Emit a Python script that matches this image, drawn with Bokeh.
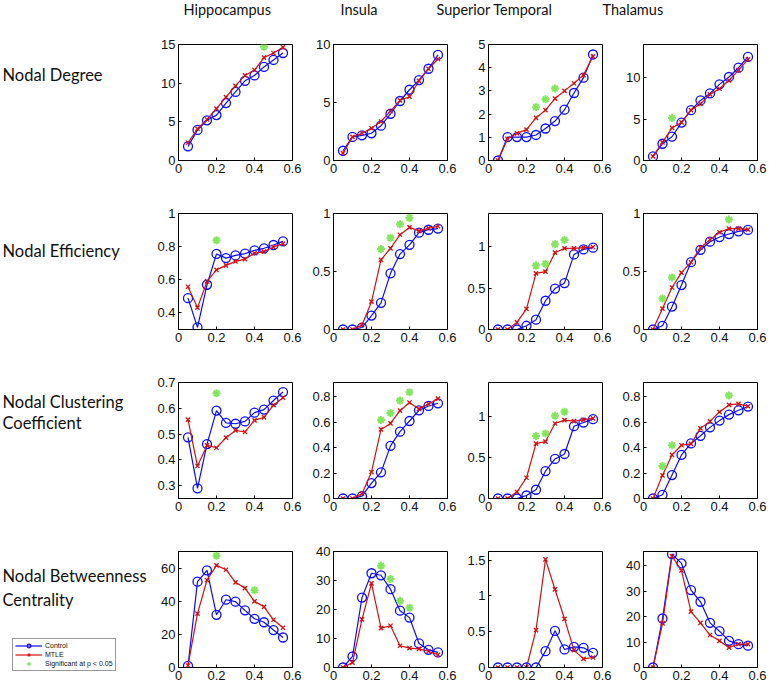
from bokeh.plotting import figure
from bokeh.layouts import row, column
from bokeh.models import Range1d, FixedTicker, Legend, LegendItem, ColumnDataSource
from bokeh.core.properties import value
from bokeh.embed import file_html
from bokeh.resources import INLINE

# ---------------- data ----------------
thresholds = [0.05, 0.10, 0.15, 0.20, 0.25, 0.30, 0.35, 0.40, 0.45, 0.50, 0.55]
regions = ["Hippocampus", "Insula", "Superior Temporal", "Thalamus"]
measure_labels = [["Nodal Degree"], ["Nodal Efficiency"],
                  ["Nodal Clustering", "Coefficient"], ["Nodal Betweenness", "Centrality"]]
series_names = ["Control", "MTLE", "Significant at p < 0.05"]
x_ticks = [0, 0.2, 0.4, 0.6]

# Nodal degree  (rows: Hippocampus, Insula, Superior Temporal, Thalamus)
degree_control = [
    [1.83, 3.96, 5.2, 5.87, 7.43, 8.87, 10.3, 11.0, 12.1, 13.0, 13.9],
    [0.84, 2.03, 2.17, 2.35, 3.0, 4.03, 5.13, 6.1, 6.93, 7.91, 9.1],
    [0.0, 1.01, 1.01, 1.01, 1.1, 1.38, 1.7, 2.19, 2.91, 3.57, 4.57],
    [0.49, 2.02, 2.87, 4.57, 6.07, 7.25, 8.1, 9.19, 10.08, 11.2, 12.5],
]
degree_mtle = [
    [2.3, 4.1, 5.3, 6.7, 8.2, 9.65, 11.0, 11.7, 13.3, 13.9, 14.65],
    [0.64, 2.03, 2.35, 2.78, 3.36, 4.26, 5.19, 5.5, 6.87, 7.91, 8.75],
    [0.0, 0.93, 1.17, 1.33, 1.84, 2.17, 2.67, 3.0, 3.33, 3.68, 4.49],
    [0.49, 2.19, 3.93, 4.6, 6.07, 6.84, 7.98, 8.66, 9.68, 10.9, 12.2],
]
degree_sig_x = [[0.45], [], [0.25, 0.30, 0.35], [0.15]]
degree_sig_y = [[14.7], [], [2.3, 2.64, 3.1], [5.14]]

# Nodal efficiency
efficiency_control = [
    [0.489, 0.313, 0.57, 0.756, 0.731, 0.747, 0.758, 0.778, 0.79, 0.81, 0.832],
    [0.0, 0.0, 0.017, 0.12, 0.23, 0.484, 0.65, 0.73, 0.835, 0.86, 0.87],
    [0.0, 0.0, 0.0, 0.045, 0.118, 0.347, 0.494, 0.56, 0.906, 0.967, 0.988],
    [0.0, 0.032, 0.197, 0.383, 0.58, 0.687, 0.757, 0.797, 0.823, 0.846, 0.858],
]
efficiency_mtle = [
    [0.558, 0.432, 0.59, 0.66, 0.687, 0.711, 0.725, 0.76, 0.77, 0.798, 0.818],
    [0.0, 0.0, 0.038, 0.24, 0.6, 0.70, 0.817, 0.88, 0.85, 0.872, 0.89],
    [0.0, 0.0, 0.086, 0.249, 0.678, 0.698, 0.927, 0.98, 0.98, 0.988, 0.996],
    [0.0, 0.18, 0.362, 0.49, 0.58, 0.707, 0.774, 0.838, 0.87, 0.87, 0.861],
]
efficiency_sig_x = [[0.20], [0.25, 0.30, 0.35, 0.40], [0.25, 0.30, 0.35, 0.40], [0.10, 0.15, 0.45]]
efficiency_sig_y = [[0.838], [0.693, 0.79, 0.907, 0.962], [0.771, 0.792, 1.03, 1.08], [0.267, 0.449, 0.948]]

# Nodal clustering coefficient
clustering_control = [
    [0.4875, 0.2895, 0.461, 0.591, 0.543, 0.540, 0.549, 0.583, 0.595, 0.630, 0.663],
    [0.0, 0.0, 0.018, 0.121, 0.205, 0.413, 0.524, 0.608, 0.692, 0.726, 0.747],
    [0.0, 0.0, 0.0, 0.037, 0.107, 0.336, 0.484, 0.545, 0.885, 0.93, 0.971],
    [0.0, 0.029, 0.184, 0.342, 0.432, 0.492, 0.558, 0.611, 0.658, 0.692, 0.721],
]
clustering_mtle = [
    [0.556, 0.376, 0.456, 0.447, 0.486, 0.514, 0.508, 0.553, 0.565, 0.612, 0.641],
    [0.0, 0.0, 0.037, 0.208, 0.542, 0.589, 0.689, 0.753, 0.703, 0.742, 0.784],
    [0.0, 0.0, 0.082, 0.254, 0.672, 0.697, 0.918, 0.959, 0.947, 0.963, 0.98],
    [0.0, 0.182, 0.342, 0.418, 0.429, 0.55, 0.605, 0.679, 0.734, 0.742, 0.724],
]
clustering_sig_x = [[0.20], [0.25, 0.30, 0.35, 0.40], [0.25, 0.30, 0.35, 0.40], [0.10, 0.15, 0.45]]
clustering_sig_y = [[0.658], [0.616, 0.671, 0.768, 0.834], [0.766, 0.795, 1.012, 1.061], [0.255, 0.418, 0.808]]

# Nodal betweenness centrality
betweenness_control = [
    [1.0, 51.8, 58.6, 31.8, 40.9, 39.7, 34.5, 29.4, 27.3, 22.6, 18.1],
    [0.0, 3.8, 24.1, 32.5, 31.8, 27.0, 19.6, 17.2, 8.3, 6.1, 5.2],
    [0.0, 0.0, 0.0, 0.0, 0.0, 0.228, 0.512, 0.252, 0.289, 0.275, 0.205],
    [0.0, 19.3, 44.7, 41.0, 30.5, 25.9, 17.6, 14.3, 10.5, 9.2, 8.6],
]
betweenness_mtle = [
    [1.2, 32.5, 52.8, 61.6, 59.0, 51.4, 47.9, 39.9, 36.6, 28.8, 24.0],
    [0.0, 1.7, 16.6, 29.0, 13.6, 14.4, 7.5, 6.7, 6.4, 5.6, 4.4],
    [0.0, 0.0, 0.0, 0.0, 0.522, 1.51, 1.09, 0.68, 0.242, 0.121, 0.14],
    [0.0, 17.4, 43.9, 38.2, 22.0, 17.6, 12.8, 10.5, 7.8, 9.2, 9.2],
]
betweenness_sig_x = [[0.20, 0.40], [0.25, 0.30, 0.35, 0.40], [], []]
betweenness_sig_y = [[67.4, 46.6], [35.1, 30.5, 23.0, 20.6], [], []]

# axis limits and ticks per panel
y_limits = [
    [(0, 15), (0, 10), (0, 5), (0, 14)],
    [(0.3, 1), (0, 1), (0, 1.4), (0, 1)],
    [(0.25, 0.7), (0, 0.91), (0, 1.42), (0, 0.91)],
    [(0, 70), (0, 40), (0, 1.62), (0, 45.7)],
]
y_ticks = [
    [[0, 5, 10, 15], [0, 5, 10], [0, 1, 2, 3, 4, 5], [0, 5, 10]],
    [[0.4, 0.6, 0.8, 1], [0, 0.5, 1], [0, 0.5, 1], [0, 0.5, 1]],
    [[0.3, 0.4, 0.5, 0.6, 0.7], [0, 0.2, 0.4, 0.6, 0.8], [0, 0.5, 1], [0, 0.2, 0.4, 0.6, 0.8]],
    [[0, 20, 40, 60], [0, 10, 20, 30, 40], [0, 0.5, 1, 1.5], [0, 10, 20, 30, 40]],
]

control_sets = [degree_control, efficiency_control, clustering_control, betweenness_control]
mtle_sets = [degree_mtle, efficiency_mtle, clustering_mtle, betweenness_mtle]
sig_x_sets = [degree_sig_x, efficiency_sig_x, clustering_sig_x, betweenness_sig_x]
sig_y_sets = [degree_sig_y, efficiency_sig_y, clustering_sig_y, betweenness_sig_y]

# ---------------- style ----------------
BLUE = "#0a0aff"
RED = "#d01010"
GREEN = "#84e65e"
TICK_FONT = "Liberation Sans"
LABEL_FONT = "Lato"

FRAME_W, FRAME_H = 114, 116
BORDER_L, BORDER_R = 30, 11
COL_W = BORDER_L + FRAME_W + BORDER_R      # 155
LABEL_W = 148
HEADER_H = 36
ROW_TOP_BORDER = 8
ROW_BOTTOM_BORDER = 45
LAST_BOTTOM_BORDER = 18
ROW_PITCH = ROW_TOP_BORDER + FRAME_H + ROW_BOTTOM_BORDER
TOTAL_H = HEADER_H + 3 * ROW_PITCH + ROW_TOP_BORDER + FRAME_H + LAST_BOTTOM_BORDER


def fmt(t):
    return "%g" % t


def style_axis(ax, ticks):
    ax.ticker = FixedTicker(ticks=ticks)
    ax.major_label_overrides = {t: fmt(t) for t in ticks}
    ax.major_tick_in = 3
    ax.major_tick_out = 0
    ax.minor_tick_line_color = None
    ax.axis_line_color = "black"
    ax.major_tick_line_color = "black"
    ax.major_label_text_font = TICK_FONT
    ax.major_label_text_color = "#111111"
    ax.major_label_text_font_size = "13px"
    ax.major_label_standoff = 3


def make_panel(r, c):
    lo, hi = y_limits[r][c]
    p = figure(frame_width=FRAME_W, frame_height=FRAME_H,
               x_range=Range1d(0, 0.6), y_range=Range1d(lo, hi),
               min_border_left=BORDER_L, min_border_right=BORDER_R,
               min_border_top=ROW_TOP_BORDER,
               min_border_bottom=(ROW_BOTTOM_BORDER if r < 3 else LAST_BOTTOM_BORDER),
               output_backend="svg", toolbar_location=None, tools="")
    p.xgrid.visible = False
    p.ygrid.visible = False
    p.outline_line_color = "black"
    p.background_fill_color = "white"
    p.border_fill_color = "white"
    style_axis(p.xaxis[0], x_ticks)
    style_axis(p.yaxis[0], y_ticks[r][c])

    ctrl = control_sets[r][c]
    mtle = mtle_sets[r][c]
    p.line(thresholds, ctrl, line_color=BLUE, line_width=1.2)
    p.scatter(thresholds, ctrl, marker="circle", size=9, fill_color=None,
              line_color=BLUE, line_width=1.3)
    p.line(thresholds, mtle, line_color=RED, line_width=1.2)
    p.scatter(thresholds, mtle, marker="x", size=6, line_color=RED, line_width=1.3)
    if sig_x_sets[r][c]:
        p.scatter(sig_x_sets[r][c], sig_y_sets[r][c], marker="asterisk", size=8,
                  line_color=GREEN, line_width=2)
    return p


panel_rows = []
for r in range(4):
    panel_rows.append(row([make_panel(r, c) for c in range(4)], spacing=0))

# header with region names
header_w = 4 * COL_W
header = figure(width=header_w, height=HEADER_H, x_range=Range1d(0, header_w),
                y_range=Range1d(HEADER_H, 0), min_border=0, x_axis_type=None,
                y_axis_type=None, output_backend="svg", toolbar_location=None, tools="")
header.grid.visible = False
header.outline_line_color = None
title_offsets = [5, 7, -52, -41]
tx = [BORDER_L + c * COL_W + title_offsets[c] for c in range(4)]
header.text(x=tx, y=[9] * 4, text=regions, text_font=value(LABEL_FONT),
            text_font_size="14.5px", text_baseline="middle", text_align="left",
            text_color="#111111")

# left strip with measure names and legend
lab = figure(width=LABEL_W, height=TOTAL_H, x_range=Range1d(0, LABEL_W),
             y_range=Range1d(TOTAL_H, 0), min_border=0, x_axis_type=None,
             y_axis_type=None, output_backend="svg", toolbar_location=None, tools="")
lab.grid.visible = False
lab.outline_line_color = None
row_tops = [HEADER_H + ROW_TOP_BORDER + r * ROW_PITCH for r in range(4)]
line_offsets = [[30], [37], [19, 40], [24, 48]]
lx, ly, lt = [], [], []
for r in range(4):
    for k, txt in enumerate(measure_labels[r]):
        lx.append(2)
        ly.append(row_tops[r] + line_offsets[r][k])
        lt.append(txt)
lab.text(x=lx, y=ly, text=lt, text_font=value(LABEL_FONT), text_font_size="16.5px",
         text_baseline="middle", text_align="left", text_color="#111111")

# legend renderers (kept outside the visible range of the strip)
dummy = ColumnDataSource(data=dict(x=[-1000, -999], y=[-1000, -999]))
l_ctrl = lab.line("x", "y", source=dummy, line_color=BLUE, line_width=1.2)
s_ctrl = lab.scatter("x", "y", source=dummy, marker="circle", size=6, fill_color=None,
                     line_color=BLUE, line_width=1.2)
l_mtle = lab.line("x", "y", source=dummy, line_color=RED, line_width=1.2)
s_mtle = lab.scatter("x", "y", source=dummy, marker="x", size=5, line_color=RED, line_width=1.2)
s_sig = lab.scatter("x", "y", source=dummy, marker="asterisk", size=6, line_color=GREEN,
                    line_width=1.5)
legend = Legend(items=[LegendItem(label=series_names[0], renderers=[l_ctrl, s_ctrl]),
                       LegendItem(label=series_names[1], renderers=[l_mtle, s_mtle]),
                       LegendItem(label=series_names[2], renderers=[s_sig])],
                location=(12, 14), orientation="vertical",
                border_line_color="#333333", border_line_width=1,
                background_fill_color="white", background_fill_alpha=1,
                padding=2, spacing=0, margin=0, label_standoff=3,
                glyph_width=27, glyph_height=9, label_height=8,
                label_text_font=TICK_FONT, label_text_font_size="7px",
                label_text_color="#111111")
lab.add_layout(legend)

layout = row([lab, column([header] + panel_rows, spacing=0)], spacing=0)

open("out.html", "w").write(file_html(layout, INLINE))
